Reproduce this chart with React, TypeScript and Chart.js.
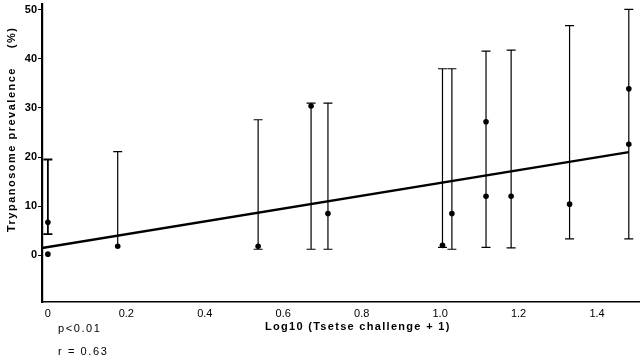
import React, { useEffect, useRef } from "react";
import { Chart, registerables } from "chart.js";

Chart.register(...registerables);

// Observed prevalence points (x = log10(tsetse challenge + 1), y = %)
const pointX = [0, 0, 0.178, 0.536, 0.671, 0.714, 1.006, 1.03, 1.117, 1.117, 1.181, 1.33, 1.481, 1.481];
const pointY = [6.7, 0.2, 1.8, 1.8, 30.4, 8.5, 2.0, 8.5, 27.2, 12.0, 12.0, 10.4, 33.9, 22.6];

// Confidence intervals
const barX = [0, 0.178, 0.536, 0.671, 0.714, 1.006, 1.03, 1.117, 1.181, 1.33, 1.481];
const barLow = [4.3, 1.8, 1.2, 1.2, 1.2, 1.6, 1.2, 1.6, 1.5, 3.3, 3.3];
const barHigh = [19.5, 21.1, 27.6, 31.0, 31.0, 38.0, 38.0, 41.6, 41.8, 46.8, 50.1];
const barLowCap = [true, false, true, true, true, true, true, true, true, true, true];

// Regression line endpoints
const regX = [-0.015, 1.481];
const regY = [1.45, 21.0];

// Axis ticks
const xTickValues = [0, 0.2, 0.4, 0.6, 0.8, 1.0, 1.2, 1.4];
const xTickLabels = ["0", "0.2", "0.4", "0.6", "0.8", "1.0", "1.2", "1.4"];
const yTickValues = [0, 10, 20, 30, 40, 50];

const xTitle = "Log10 (Tsetse challenge + 1)";
const yTitle = "Trypanosome prevalence";
const yUnit = "(%)";
const statP = "p<0.01";
const statR = "r = 0.63";

const FONT = "'Liberation Sans', Arial, Helvetica, sans-serif";

const errorBarPlugin = {
  id: "errorBars",
  afterDatasetsDraw(chart: any) {
    const { ctx, scales } = chart;
    const xs = scales.x;
    const ys = scales.y;
    ctx.save();
    ctx.strokeStyle = "#000";
    const cap = 4.5;
    for (let i = 0; i < barX.length; i++) {
      const px = xs.getPixelForValue(barX[i]);
      const pl = ys.getPixelForValue(barLow[i]);
      const ph = ys.getPixelForValue(barHigh[i]);
      ctx.lineWidth = i === 0 ? 1.8 : 1.2;
      ctx.beginPath();
      ctx.moveTo(px, pl);
      ctx.lineTo(px, ph);
      ctx.moveTo(px - cap, ph);
      ctx.lineTo(px + cap, ph);
      if (barLowCap[i]) {
        ctx.moveTo(px - cap, pl);
        ctx.lineTo(px + cap, pl);
      }
      ctx.stroke();
    }
    ctx.restore();
  },
};

const textPlugin = {
  id: "texts",
  afterDraw(chart: any) {
    const { ctx, scales } = chart;
    const xs = scales.x;
    const ys = scales.y;
    ctx.save();
    ctx.fillStyle = "#000";
    // X axis title
    ctx.font = `bold 11px ${FONT}`;
    (ctx as any).letterSpacing = "1.3px";
    ctx.textAlign = "center";
    ctx.textBaseline = "middle";
    ctx.fillText(xTitle, xs.getPixelForValue(0.79), 327);
    // stats
    ctx.font = `11px ${FONT}`;
    (ctx as any).letterSpacing = "1.6px";
    ctx.textAlign = "left";
    ctx.fillText(statP, 58, 329);
    ctx.fillText(statR, 58, 352);
    // Y axis title (rotated)
    ctx.translate(12, 0);
    ctx.rotate(-Math.PI / 2);
    ctx.font = `bold 11px ${FONT}`;
    (ctx as any).letterSpacing = "1.5px";
    ctx.textAlign = "left";
    ctx.fillText(yTitle, -ys.getPixelForValue(4.7), 0);
    ctx.textAlign = "right";
    ctx.fillText(yUnit, -ys.getPixelForValue(46.6), 0);
    ctx.restore();
  },
};

export default function App() {
  const ref = useRef<HTMLCanvasElement | null>(null);
  useEffect(() => {
    if (!ref.current) return;
    const chart = new Chart(ref.current, {
      type: "scatter",
      data: {
        datasets: [
          {
            type: "line",
            data: regX.map((x, i) => ({ x, y: regY[i] })),
            borderColor: "#000",
            borderWidth: 2.4,
            pointRadius: 0,
            fill: false,
          } as any,
          {
            type: "scatter",
            data: pointX.map((x, i) => ({ x, y: pointY[i] })),
            backgroundColor: "#000",
            borderColor: "#000",
            pointRadius: 2.8,
            borderWidth: 0,
          },
        ],
      },
      options: {
        animation: false,
        responsive: false,
        layout: { padding: { left: 0, right: 3, top: 0, bottom: 0 } },
        plugins: { legend: { display: false }, tooltip: { enabled: false }, title: { display: false } },
        scales: {
          x: {
            type: "linear",
            min: -0.015,
            max: 1.507,
            afterBuildTicks: (s: any) => {
              s.ticks = xTickValues.map((v) => ({ value: v }));
            },
            afterFit: (s: any) => {
              s.height = 58;
              s.paddingLeft = 0;
              s.paddingRight = 0;
            },
            grid: { display: true, drawOnChartArea: false, drawTicks: false },
            border: { display: true, color: "#000", width: 1.4 },
            ticks: {
              color: "#000",
              padding: 5,
              maxRotation: 0,
              autoSkip: false,
              font: { family: FONT, size: 11 },
              callback: (v: any) => {
                const idx = xTickValues.findIndex((t) => Math.abs(t - v) < 1e-6);
                return idx >= 0 ? xTickLabels[idx] : "";
              },
            },
          },
          y: {
            type: "linear",
            min: -9.55,
            max: 51.2,
            afterBuildTicks: (s: any) => {
              s.ticks = yTickValues.map((v) => ({ value: v }));
            },
            afterFit: (s: any) => {
              s.width = 42;
              s.paddingTop = 0;
              s.paddingBottom = 0;
            },
            grid: { display: true, drawOnChartArea: false, drawTicks: true, tickLength: 4, color: "#000", tickWidth: 1 },
            border: { display: true, color: "#000", width: 2.2 },
            ticks: {
              color: "#000",
              padding: 1,
              autoSkip: false,
              font: { family: FONT, size: 11, weight: "bold" },
              callback: (v: any) => String(v),
            },
          },
        },
      },
      plugins: [errorBarPlugin, textPlugin],
    } as any);
    return () => chart.destroy();
  }, []);
  return (
    <div style={{ position: "absolute", left: 0, top: 0, width: 643, height: 360, background: "#fff" }}>
      <canvas ref={ref} width={643} height={360} style={{ display: "block" }} />
    </div>
  );
}
